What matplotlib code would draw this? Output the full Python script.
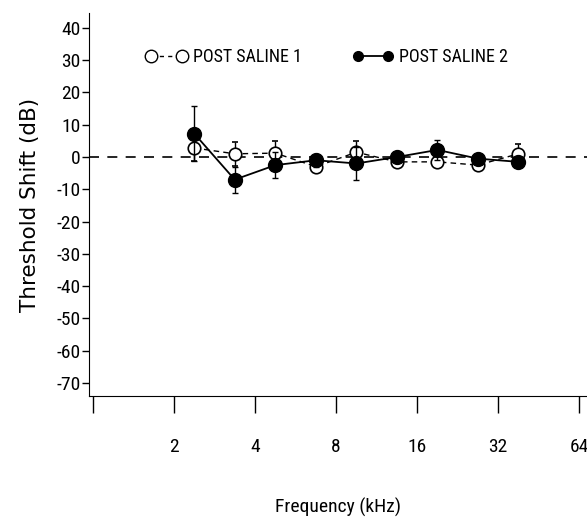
import matplotlib
matplotlib.use("Agg")
import matplotlib.pyplot as plt
from matplotlib.lines import Line2D
from matplotlib import font_manager
import numpy as np

# frequencies (kHz), half-octave steps
freq = [2.38, 3.36, 4.76, 6.73, 9.51, 13.45, 19.03, 26.91, 38.05]

# threshold shift (dB) and error bars
saline1 = [2.8, 1.0, 1.2, -3.0, 1.5, -1.5, -1.5, -2.5, 1.0]
saline1_err = [4.0, 3.8, 3.8, 1.5, 3.5, 1.5, 1.5, 1.0, 3.0]
saline2 = [7.2, -7.0, -2.5, -1.0, -2.0, 0.0, 2.2, -0.5, -1.5]
saline2_err = [8.5, 4.0, 4.0, 2.0, 5.0, 1.5, 3.0, 1.5, 1.5]

xticks = [1, 2, 4, 8, 16, 32, 64]
xticklabels = ['', '2', '4', '8', '16', '32', '64']
yticks = list(range(-70, 41, 10))

# narrow font if there is one
names = set(f.name for f in font_manager.fontManager.ttflist)
narrow = 'DejaVu Sans'
for cand in ['Liberation Sans Narrow', 'DejaVu Sans Condensed', 'Roboto Condensed', 'Open Sans Condensed']:
    if cand in names:
        narrow = cand
        break

fig = plt.figure(figsize=(5.87, 5.22), dpi=100)
ax = fig.add_axes([0.1516, 0.2414, 0.8484, 0.7337])

ax.axhline(0, color='black', lw=1.2, ls=(0, (6, 5)), zorder=1)

ax.errorbar(freq, saline1, yerr=saline1_err, fmt='o', ls=(0, (4, 3)), color='black',
            mfc='white', mec='black', ms=9, mew=1.2, lw=1.0, elinewidth=1.0, capsize=2,
            zorder=3)
ax.errorbar(freq, saline2, yerr=saline2_err, fmt='o', ls='-', color='black',
            mfc='black', mec='black', ms=10, lw=1.3, elinewidth=1.0, capsize=2,
            zorder=4)

ax.set_xscale('log', base=2)
ax.set_xlim(0.966, 68.4)
ax.set_ylim(-74, 44.6)
ax.set_xticks(xticks)
ax.set_xticklabels(xticklabels, family=narrow, stretch='condensed', fontsize=14)
ax.minorticks_off()
ax.set_yticks(yticks)
ax.set_yticklabels([str(v) for v in yticks], family=narrow, stretch='condensed', fontsize=14)
ax.tick_params(axis='x', direction='out', length=12, width=1, pad=18)
ax.tick_params(axis='y', direction='out', length=5, width=1, pad=1)

ax.spines['top'].set_visible(False)
ax.spines['right'].set_visible(False)

ax.set_ylabel('Threshold Shift (dB)', fontsize=15.5, labelpad=12)
ax.set_xlabel('Frequency (kHz)', family=narrow, stretch='condensed', fontsize=14, labelpad=30)

h1 = Line2D([], [], color='black', ls=(0, (3, 3)), lw=1.0, marker='o', ms=9, mfc='white', mec='black')
h2 = Line2D([], [], color='black', ls='-', lw=1.3, marker='o', ms=7, mfc='black', mec='black')
ax.legend([h1, h2], ['POST SALINE 1', 'POST SALINE 2'], loc='center',
          bbox_to_anchor=(0.478, 0.885), ncol=2, frameon=False,
          numpoints=2, handlelength=2.3, columnspacing=2.8, handletextpad=0.3,
          prop={'family': narrow, 'stretch': 'condensed', 'size': 13})

fig.savefig('out.png', dpi=100)
